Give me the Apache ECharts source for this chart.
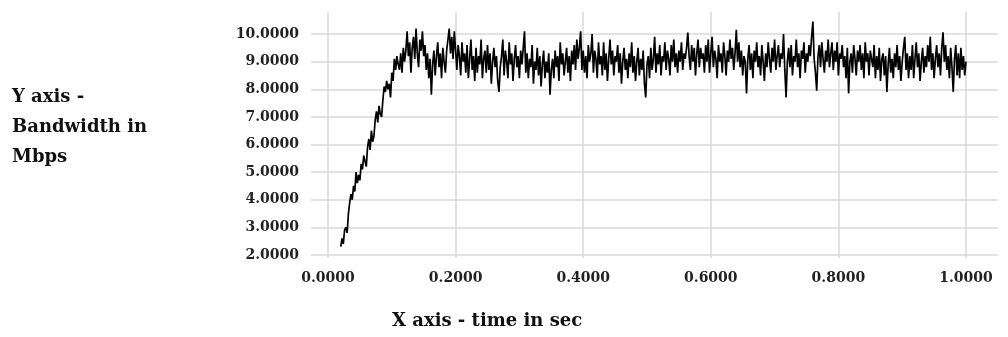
<!DOCTYPE html>
<html><head><meta charset="utf-8">
<script src="https://cdn.jsdelivr.net/npm/echarts@6/dist/echarts.min.js"></script>
<style>html,body{margin:0;padding:0;background:#fff}#c{width:1008px;height:337px}</style>
</head><body><div id="c"></div>
<script>
// time samples: start and step (seconds)
const tStart = 0.020;
const tStep = 0.002;
// ramp-up phase bandwidth (Mbps), t = 0.020 .. 0.110
const rampValues = [
  2.3, 2.6, 2.4, 2.9, 3.0, 2.8, 3.5, 3.9, 4.2, 4.0,
  4.5, 4.3, 5.0, 4.6, 4.9, 4.7, 5.3, 5.1, 5.6, 5.4,
  5.2, 5.9, 6.2, 5.8, 6.5, 6.1, 6.3, 6.9, 7.2, 6.8,
  7.4, 7.1, 7.0, 7.6, 8.1, 7.9, 8.3, 8.0, 8.2, 7.7,
  8.6, 8.3, 9.1, 8.7, 9.2, 8.9
];
// steady phase bandwidth (Mbps), t = 0.112 .. 1.000
const steadyValues = [
  8.7, 9.3, 8.6, 9.5, 9.0, 9.4, 10.1, 9.2, 9.7, 8.6, 9.5, 9.9, 9.1, 10.2, 9.3, 8.8, 9.8, 9.4, 10.1, 9.2,
  9.6, 8.7, 9.3, 8.4, 9.1, 7.8, 8.9, 9.4, 8.5, 9.2, 9.7, 8.8, 9.3, 8.4, 9.5, 9.0, 8.6, 9.4, 9.8, 10.2,
  9.3, 9.9, 9.1, 10.1, 9.4, 8.7, 9.6, 9.2, 8.5, 9.7, 9.0, 9.3, 8.6, 9.6, 8.4, 9.1, 9.8, 8.7, 9.2, 8.3,
  9.5, 8.6, 9.2, 8.9, 9.8, 8.4, 9.1, 9.4, 8.6, 9.6, 8.7, 9.3, 8.2, 9.0, 9.5, 8.8, 9.2, 8.3, 7.9, 8.8,
  9.2, 9.8, 8.5, 9.4, 9.0, 8.4, 9.7, 8.9, 9.3, 8.3, 9.1, 9.6, 8.8, 9.2, 8.4, 9.4, 8.9, 9.5, 10.1, 8.6,
  9.3, 8.4, 9.1, 8.8, 9.6, 8.2, 9.0, 8.7, 9.5, 8.5, 9.2, 8.1, 8.9, 9.4, 8.4, 9.0, 8.6, 9.3, 7.8, 8.7,
  9.1, 8.4, 9.4, 8.8, 9.2, 8.3, 9.7, 8.9, 9.3, 8.5, 9.0, 9.5, 8.6, 9.2, 8.3, 9.4, 8.9, 9.6, 8.7, 9.8,
  9.1, 9.5, 10.1, 8.7, 9.4, 8.6, 9.2, 8.4, 9.6, 9.0, 9.3, 10.0, 8.6, 9.4, 9.1, 8.4, 9.7, 8.9, 9.2, 8.5,
  9.7, 8.7, 9.3, 8.3, 9.1, 9.8, 8.9, 9.4, 8.5, 9.2, 9.0, 9.6, 8.6, 9.3, 8.2, 9.0, 9.5, 8.7, 9.1, 8.4,
  9.3, 8.8, 9.7, 8.6, 9.2, 8.3, 9.0, 9.5, 8.5, 9.1, 8.7, 9.4, 8.2, 7.7, 8.9, 9.2, 8.4, 9.5, 8.7, 9.1,
  9.9, 8.6, 9.3, 8.9, 9.6, 8.5, 9.2, 9.0, 9.7, 8.7, 9.4, 9.1, 8.5, 9.6, 9.0, 9.8, 8.8, 9.3, 8.6, 9.4,
  9.0, 9.7, 8.7, 9.3, 9.1, 9.5, 10.05, 9.2, 8.7, 9.6, 9.0, 9.5, 8.5, 9.3, 9.8, 8.8, 9.5, 9.1, 9.3, 8.6,
  9.6, 9.0, 9.8, 8.6, 9.3, 9.9, 8.8, 9.4, 9.1, 8.4, 9.6, 9.0, 9.3, 8.6, 9.7, 9.2, 8.5, 9.4, 9.0, 9.8,
  9.1, 9.5, 8.7, 9.3, 10.15, 9.0, 9.7, 8.8, 9.4, 8.5, 9.2, 9.0, 7.85, 9.1, 9.6, 8.7, 9.3, 8.4, 9.4, 9.0,
  9.7, 8.8, 9.2, 8.5, 9.6, 9.0, 8.3, 9.3, 8.8, 9.7, 9.1, 8.6, 9.5, 9.0, 9.8, 8.7, 9.2, 9.6, 8.8, 9.3,
  9.1, 10.0, 8.7, 7.7, 9.0, 9.5, 8.8, 9.6, 8.5, 9.2, 9.0, 9.8, 8.8, 9.3, 8.4, 9.4, 9.1, 9.7, 8.6, 9.3,
  9.0, 9.6, 9.2, 9.9, 10.45, 9.1, 8.6, 7.95, 9.2, 9.6, 8.8, 9.7, 9.1, 8.6, 9.4, 9.0, 9.8, 8.8, 9.3, 9.7,
  8.7, 9.4, 9.0, 9.7, 8.5, 9.3, 9.1, 9.6, 8.8, 9.2, 8.4, 9.5, 7.85, 9.0, 9.3, 8.6, 9.6, 9.1, 8.5, 9.4,
  9.0, 9.6, 8.7, 9.3, 8.4, 9.7, 9.0, 9.3, 8.5, 9.4, 9.1, 8.8, 9.6, 8.4, 9.2, 8.7, 9.5, 8.3, 9.1, 9.3,
  8.5, 9.2, 7.9, 8.9, 9.5, 8.6, 9.1, 8.4, 9.3, 8.8, 9.6, 8.7, 9.2, 8.3, 9.0, 9.5, 9.9, 8.7, 9.3, 8.4,
  9.2, 8.7, 9.6, 8.4, 9.1, 9.7, 8.8, 9.3, 8.3, 9.0, 9.5, 8.6, 9.2, 8.8, 9.6, 9.0, 9.9, 8.7, 9.3, 8.4,
  9.1, 9.6, 8.8, 9.3, 8.5, 9.5, 10.06, 9.0, 9.6, 8.7, 9.2, 8.4, 9.5, 8.8, 7.9, 9.1, 9.6, 8.5, 9.3, 8.4,
  9.5, 8.7, 9.2, 8.5, 9.0
];
const yTitleLines = ['Y axis -', 'Bandwidth in', 'Mbps'];
const xTitle = 'X axis - time in sec';

const allValues = rampValues.concat(steadyValues);
const seriesData = allValues.map((v, i) => [+(tStart + i * tStep).toFixed(4), v]);

const FONT = 'DejaVu Serif';
const gridColor = '#d9d9d9';
const chart = echarts.init(document.getElementById('c'), null, {renderer: 'canvas'});
chart.setOption({
  backgroundColor: '#ffffff',
  animation: false,
  grid: [
    {left: 311, right: 10, top: 34, height: 221, containLabel: false},
    {left: 328, width: 638, top: 12, height: 246, containLabel: false}
  ],
  xAxis: [
    {gridIndex: 0, type: 'value', min: 0, max: 1, show: false},
    {gridIndex: 1, type: 'value', min: 0, max: 1, interval: 0.2,
     axisLine: {show: false}, axisTick: {show: false},
     splitLine: {show: true, lineStyle: {color: gridColor, width: 1.5}},
     axisLabel: {margin: 13, fontFamily: FONT, fontWeight: 'bold', fontSize: 14, color: '#222',
       formatter: v => v.toFixed(4)}}
  ],
  yAxis: [
    {gridIndex: 0, type: 'value', min: 2, max: 10, interval: 1,
     axisLine: {show: false}, axisTick: {show: false},
     splitLine: {show: true, lineStyle: {color: gridColor, width: 1.5}},
     axisLabel: {margin: 12, fontFamily: FONT, fontWeight: 'bold', fontSize: 14, color: '#222',
       formatter: v => v.toFixed(4)}},
    {gridIndex: 1, type: 'value', min: 2 - 3 / 27.625, max: 10 + 22 / 27.625, show: false}
  ],
  series: [{
    type: 'line', xAxisIndex: 1, yAxisIndex: 1, data: seriesData,
    showSymbol: false, symbol: 'none', clip: false,
    lineStyle: {color: '#000', width: 1.7}
  }],
  graphic: yTitleLines.map((s, i) => ({
    type: 'text', left: 12, top: 88 + i * 30,
    style: {text: s, fontFamily: FONT, fontWeight: 'bold', fontSize: 18, fill: '#111'}
  })).concat([{
    type: 'text', left: 392, top: 312,
    style: {text: xTitle, fontFamily: FONT, fontWeight: 'bold', fontSize: 18, fill: '#111'}
  }])
});
</script></body></html>
